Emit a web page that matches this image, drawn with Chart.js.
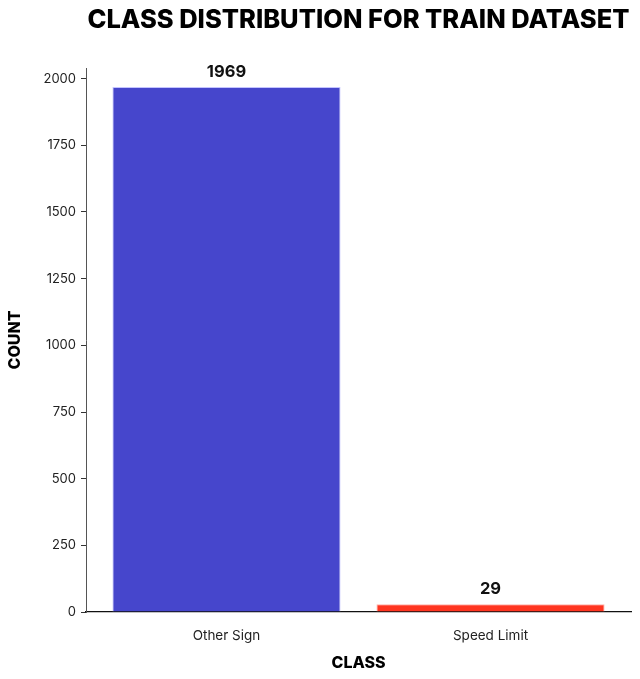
<!DOCTYPE html>
<html>
<head>
<meta charset="utf-8">
<script src="https://cdn.jsdelivr.net/npm/chart.js@4"></script>
<style>
  html, body { margin: 0; padding: 0; background: #fff; }
  #wrap { width: 640px; height: 679px; }
</style>
</head>
<body>
<div id="wrap"><canvas id="classChart" width="640" height="679"></canvas></div>
<script>
// data
const classLabels = ["Other Sign", "Speed Limit"];
const classPos = [0, 1];
const classCounts = [1969, 29];
const yTickValues = [0, 250, 500, 750, 1000, 1250, 1500, 1750, 2000];
const barColors = ["#4646CC", "#FF3520"];
const barEdges = ["rgba(190,190,255,0.9)", "rgba(255,170,160,0.9)"];

const FONT = "Inter, 'Open Sans', sans-serif";

// value labels above the bars
const barValueLabels = {
  id: "barValueLabels",
  afterDatasetsDraw(chart) {
    const ctx = chart.ctx;
    const meta = chart.getDatasetMeta(0);
    ctx.save();
    ctx.font = "bold 16.5px " + FONT;
    ctx.fillStyle = "#111";
    ctx.textAlign = "center";
    ctx.textBaseline = "bottom";
    meta.data.forEach((bar, i) => {
      ctx.fillText(String(classCounts[i]), bar.x, bar.y - 7);
    });
    ctx.restore();
  }
};

const points = classPos.map((x, i) => ({ x: x, y: classCounts[i] }));

new Chart(document.getElementById("classChart").getContext("2d"), {
  type: "bar",
  data: {
    datasets: [{
      data: points,
      backgroundColor: barColors,
      borderColor: barEdges,
      borderWidth: 1,
      categoryPercentage: 1,
      barPercentage: 0.864
    }]
  },
  options: {
    responsive: false,
    animation: false,
    devicePixelRatio: 1,
    layout: { padding: { left: 0, right: 9, top: 0, bottom: 0 } },
    plugins: {
      legend: { display: false },
      tooltip: { enabled: false },
      title: {
        display: true,
        fullSize: false,
        text: "CLASS DISTRIBUTION FOR TRAIN DATASET",
        color: "#000",
        font: { family: FONT, size: 25.5, weight: "800" },
        padding: { top: 5, bottom: 32.4 }
      }
    },
    scales: {
      x: {
        type: "linear",
        offset: false,
        min: -0.532,
        max: 1.532,
        afterFit: s => { s.height = 67; },
        afterBuildTicks: s => { s.ticks = classPos.map(v => ({ value: v })); },
        grid: { display: false, drawTicks: false, offset: false },
        border: { display: true, color: "#111", width: 1.3 },
        ticks: {
          padding: 16,
          color: "#222",
          font: { family: FONT, size: 13.5 },
          callback: v => classLabels[classPos.indexOf(v)] || ""
        },
        title: {
          display: true,
          text: "CLASS",
          color: "#000",
          font: { family: FONT, size: 16, weight: "800" },
          padding: { top: 0, bottom: 6.4 }
        }
      },
      y: {
        min: 0,
        max: 2040,
        afterFit: s => { s.width = 86; },
        afterBuildTicks: s => { s.ticks = yTickValues.map(v => ({ value: v })); },
        grid: { drawOnChartArea: false, drawTicks: true, tickLength: 5, color: "#333" },
        border: { display: true, color: "#555", width: 1 },
        ticks: {
          padding: 5,
          color: "#222",
          font: { family: FONT, size: 13 },
          callback: v => String(v)
        },
        title: {
          display: true,
          text: "COUNT",
          color: "#000",
          font: { family: FONT, size: 16, weight: "800" },
          padding: { top: 6, bottom: 0 }
        }
      }
    }
  },
  plugins: [barValueLabels]
});
</script>
</body>
</html>
